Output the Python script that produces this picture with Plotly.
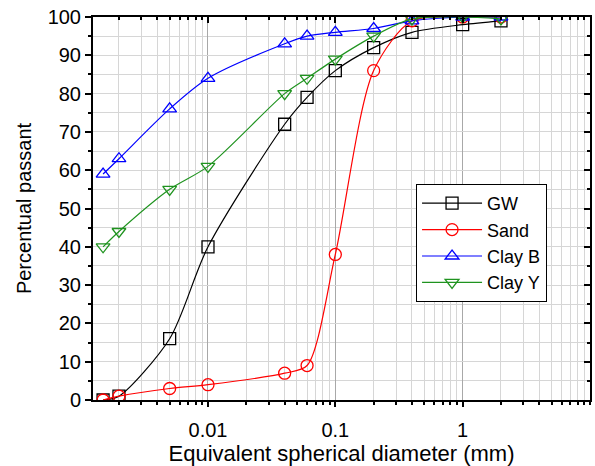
import plotly.graph_objects as go

diam = [0.0015, 0.002, 0.005, 0.01, 0.04, 0.06, 0.1, 0.2, 0.4, 1, 2]
gw = [0, 1, 16, 40, 72, 79, 86, 92, 96, 98, 99]
sand = [0, 1, 3, 4, 7, 9, 38, 86, 99, 100, 100]
clay_b = [59, 63, 76, 84, 93, 95, 96, 97, 99, 100, 100]
clay_y = [40, 44, 55, 61, 80, 84, 89, 95, 99.5, 100, 99.5]

names = ["GW", "Sand", "Clay B", "Clay Y"]
series = [gw, sand, clay_b, clay_y]
colors = ["#000000", "#ff0000", "#0000ff", "#1f931f"]
symbols = ["square-open", "circle-open", "triangle-up-open", "triangle-down-open"]

major_x = [0.01, 0.1, 1]
minor_x = [m * 10 ** e for e in range(-3, 1) for m in range(2, 10)] + [10]
minor_x = [v for v in minor_x if v > 0.00125]

font = "Liberation Sans, Arial, sans-serif"

fig = go.Figure()
for n, s, c, sym in zip(names, series, colors, symbols):
    fig.add_trace(go.Scatter(
        x=diam, y=s, name=n, mode="lines+markers",
        line=dict(color=c, width=1.2, shape="spline", smoothing=0.8),
        marker=dict(symbol=sym, size=12, color=c, line=dict(width=1.3, color=c)),
    ))

# invisible trace to host mirror axes with inward ticks
fig.add_trace(go.Scatter(x=[0.01], y=[50], xaxis="x2", yaxis="y2",
                         mode="markers", marker=dict(opacity=0),
                         showlegend=False, hoverinfo="skip"))

xr = [-2.903, 1.0]
fig.update_layout(
    width=595, height=466,
    margin=dict(l=93, r=5, t=17, b=66),
    plot_bgcolor="white", paper_bgcolor="white",
    font=dict(family=font, size=20, color="black"),
    xaxis=dict(
        type="log", range=xr, tickmode="array", tickvals=major_x,
        ticktext=["0.01", "0.1", "1"], ticklabeloverflow="allow",
        ticklabelstandoff=6,
        ticks="outside", ticklen=5, tickwidth=2, tickcolor="black",
        showline=True, linewidth=2, linecolor="black",
        showgrid=True, gridcolor="#a8a8a8", gridwidth=1,
        minor=dict(tickmode="array", tickvals=minor_x, ticks="outside",
                   ticklen=3, tickwidth=2, tickcolor="black",
                   showgrid=True, gridcolor="#d6d6d6", gridwidth=1),
        title=dict(text="Equivalent spherical diameter (mm)", font=dict(size=22), standoff=12),
        zeroline=False, automargin=False,
    ),
    yaxis=dict(
        range=[0, 100], tickmode="linear", tick0=0, dtick=10,
        ticklabeloverflow="allow",
        ticks="outside", ticklen=6, tickwidth=2, tickcolor="black",
        showline=True, linewidth=2, linecolor="black",
        showgrid=True, gridcolor="#d6d6d6", gridwidth=1,
        minor=dict(dtick=5, ticks="outside", ticklen=3, tickwidth=2,
                   tickcolor="black", showgrid=True, gridcolor="#d6d6d6"),
        title=dict(text="Percentual passant", font=dict(size=20), standoff=11),
        zeroline=False, automargin=False,
    ),
    xaxis2=dict(
        type="log", range=xr, overlaying="x", side="top", anchor="y",
        tickmode="array", tickvals=major_x, showticklabels=False,
        ticks="inside", ticklen=6, tickwidth=2, tickcolor="black",
        showline=True, linewidth=2, linecolor="black", showgrid=False,
        minor=dict(tickmode="array", tickvals=minor_x, ticks="inside",
                   ticklen=3, tickwidth=2, tickcolor="black", showgrid=False),
        zeroline=False,
    ),
    yaxis2=dict(
        range=[0, 100], overlaying="y", side="right", anchor="x",
        tickmode="linear", tick0=0, dtick=10, showticklabels=False,
        ticks="inside", ticklen=6, tickwidth=2, tickcolor="black",
        showline=True, linewidth=2, linecolor="black", showgrid=False,
        minor=dict(dtick=5, ticks="inside", ticklen=3, tickwidth=2,
                   tickcolor="black", showgrid=False),
        zeroline=False,
    ),
    legend=dict(
        x=0.650, y=0.564, xanchor="left", yanchor="top",
        bgcolor="white", bordercolor="black", borderwidth=1,
        font=dict(size=18), tracegroupgap=0, itemwidth=60,
    ),
    showlegend=True,
)

fig.write_html("out.html", config={"displayModeBar": False},
               post_script="document.body.style.margin='0';")
